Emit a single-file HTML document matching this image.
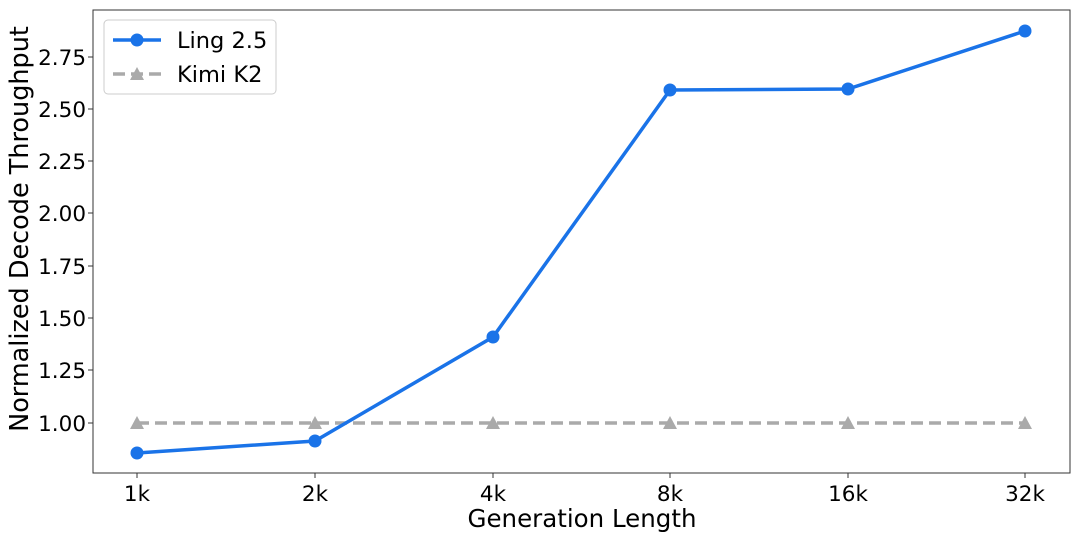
<!DOCTYPE html>
<html><head><style>
body{margin:0;background:#fff;}
svg{display:block;font-family:"DejaVu Sans","Liberation Sans",sans-serif;}
</style></head><body>
<svg width="1080" height="540" viewBox="0 0 1080 540">
<rect x="93" y="10" width="977" height="463" fill="none" stroke="#333" stroke-width="1"/>
<g stroke="#333" stroke-width="1">
<line x1="88" x2="93" y1="57" y2="57"/><line x1="88" x2="93" y1="109" y2="109"/><line x1="88" x2="93" y1="161" y2="161"/><line x1="88" x2="93" y1="213" y2="213"/><line x1="88" x2="93" y1="266" y2="266"/><line x1="88" x2="93" y1="318" y2="318"/><line x1="88" x2="93" y1="370" y2="370"/><line x1="88" x2="93" y1="423" y2="423"/>
<line y1="473" y2="478" x1="137" x2="137"/><line y1="473" y2="478" x1="315" x2="315"/><line y1="473" y2="478" x1="493" x2="493"/><line y1="473" y2="478" x1="670" x2="670"/><line y1="473" y2="478" x1="848" x2="848"/><line y1="473" y2="478" x1="1025" x2="1025"/>
</g>
<g font-size="21.5" fill="#000" text-anchor="end">
<text x="86" y="65">2.75</text><text x="86" y="117">2.50</text><text x="86" y="169">2.25</text><text x="86" y="221">2.00</text><text x="86" y="274">1.75</text><text x="86" y="326">1.50</text><text x="86" y="378">1.25</text><text x="86" y="431">1.00</text>
</g>
<g font-size="21.5" fill="#000" text-anchor="middle">
<text x="137" y="501">1k</text><text x="315" y="501">2k</text><text x="493" y="501">4k</text><text x="670" y="501">8k</text><text x="848" y="501">16k</text><text x="1025" y="501">32k</text>
</g>
<text x="582" y="527" font-size="24.5" text-anchor="middle">Generation Length</text>
<text transform="translate(28,229) rotate(-90)" font-size="25.5" text-anchor="middle">Normalized Decode Throughput</text>
<polyline points="137,423 315,423 493,423 670,423 848,423 1025,423" fill="none" stroke="#aaaaaa" stroke-width="3.5" stroke-dasharray="12,6"/>
<g fill="#aaaaaa">
<polygon points="137,416 144,429 130,429"/><polygon points="315,416 322,429 308,429"/><polygon points="493,416 500,429 486,429"/><polygon points="670,416 677,429 663,429"/><polygon points="848,416 855,429 841,429"/><polygon points="1025,416 1032,429 1018,429"/>
</g>
<polyline points="137,453 315,441 493,337 670,90 848,89 1025,31" fill="none" stroke="#1a73e8" stroke-width="3.5"/>
<g fill="#1a73e8">
<circle cx="137" cy="453" r="6.5"/><circle cx="315" cy="441" r="6.5"/><circle cx="493" cy="337" r="6.5"/><circle cx="670" cy="90" r="6.5"/><circle cx="848" cy="89" r="6.5"/><circle cx="1025" cy="31" r="6.5"/>
</g>
<rect x="104" y="20" width="172" height="74" rx="4" fill="#fff" stroke="#ccc"/>
<line x1="113" x2="161" y1="40" y2="40" stroke="#1a73e8" stroke-width="3.5"/>
<circle cx="137" cy="40" r="6.5" fill="#1a73e8"/>
<text x="177" y="48" font-size="22.5">Ling 2.5</text>
<line x1="113" x2="161" y1="74" y2="74" stroke="#aaaaaa" stroke-width="3.5" stroke-dasharray="12,6"/>
<polygon points="137,67 144,80 130,80" fill="#aaaaaa"/>
<text x="177" y="82" font-size="22.5">Kimi K2</text>
</svg>
</body></html>
